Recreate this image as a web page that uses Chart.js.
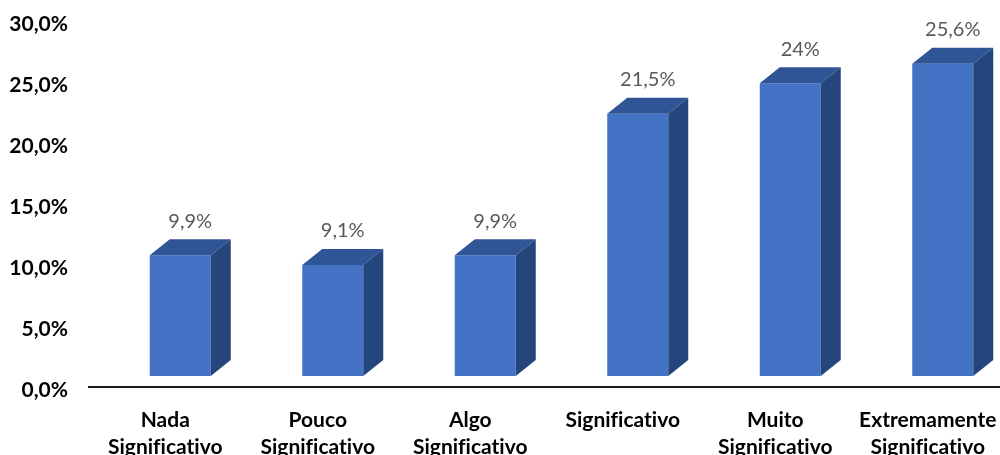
<!DOCTYPE html>
<html>
<head>
<meta charset="utf-8">
<script src="https://cdn.jsdelivr.net/npm/chart.js@4.4.1/dist/chart.umd.min.js"></script>
<style>
    html, body { margin: 0; padding: 0; background: #ffffff; overflow: hidden; }
    #chart { display: block; }
</style>
</head>
<body>
<canvas id="chart" width="1020" height="455"></canvas>
<script>
// Response categories, one entry per column
const categories = [
    ['Nada', 'Significativo'],
    ['Pouco', 'Significativo'],
    ['Algo', 'Significativo'],
    'Significativo',
    ['Muito', 'Significativo'],
    ['Extremamente', 'Significativo']
];

// Share of answers, in percent
const percentages = [9.9, 9.1, 9.9, 21.5, 24, 25.6];

// Value axis range and step
const axisMin = 0;
const axisMax = 30;
const axisStep = 5;

const FRONT = '#4472c4';
const TOP = '#2f5597';
const SIDE = '#25467c';
const DEPTH_X = 20;
const DEPTH_Y = 16;
const FLOOR_GAP = 11;

function formatLabel(value) {
    return String(value).replace('.', ',') + '%';
}

function formatTick(value) {
    return value.toFixed(1).replace('.', ',') + '%';
}

// Plain glyphs, no "fi"/"ti" ligatures
const plainText = {
    id: 'plainText',
    beforeDraw(chart) {
        chart.ctx.textRendering = 'optimizeSpeed';
    }
};

// Draws the top and side faces of each column, the floor line and value labels
const columns3d = {
    id: 'columns3d',
    afterDatasetsDraw(chart) {
        const ctx = chart.ctx;
        const meta = chart.getDatasetMeta(0);
        const yScale = chart.scales.y;

        ctx.save();
        meta.data.forEach(function(bar, i) {
            const half = bar.width / 2;
            const left = bar.x - half;
            const right = bar.x + half;
            const top = bar.y;
            const bottom = bar.base;

            // top face
            ctx.fillStyle = TOP;
            ctx.beginPath();
            ctx.moveTo(left, top);
            ctx.lineTo(left + DEPTH_X, top - DEPTH_Y);
            ctx.lineTo(right + DEPTH_X, top - DEPTH_Y);
            ctx.lineTo(right, top);
            ctx.closePath();
            ctx.fill();

            // side face
            ctx.fillStyle = SIDE;
            ctx.beginPath();
            ctx.moveTo(right, top);
            ctx.lineTo(right + DEPTH_X, top - DEPTH_Y);
            ctx.lineTo(right + DEPTH_X, bottom - DEPTH_Y);
            ctx.lineTo(right, bottom);
            ctx.closePath();
            ctx.fill();

            // value label
            ctx.fillStyle = '#595959';
            ctx.font = '20px Lato';
            ctx.textAlign = 'center';
            ctx.textBaseline = 'middle';
            ctx.fillText(formatLabel(percentages[i]), bar.x + DEPTH_X / 2, top - 34);
        });

        // floor line
        const floorY = yScale.getPixelForValue(0) + FLOOR_GAP;
        ctx.strokeStyle = '#1a1a1a';
        ctx.lineWidth = 2;
        ctx.beginPath();
        ctx.moveTo(chart.chartArea.left - 16, floorY);
        ctx.lineTo(chart.width, floorY);
        ctx.stroke();
        ctx.restore();
    }
};

new Chart(document.getElementById('chart').getContext('2d'), {
    type: 'bar',
    data: {
        labels: categories,
        datasets: [{
            data: percentages,
            backgroundColor: FRONT,
            borderWidth: 0,
            barPercentage: 0.4,
            categoryPercentage: 1.0
        }]
    },
    options: {
        responsive: false,
        animation: false,
        layout: {
            padding: { left: 0, right: 1, top: 10, bottom: 0 }
        },
        plugins: {
            legend: { display: false },
            tooltip: { enabled: false }
        },
        scales: {
            x: {
                grid: { display: false, drawTicks: false },
                border: { display: false },
                ticks: {
                    color: '#000000',
                    font: { family: 'Lato', size: 21, weight: 'bold', lineHeight: 1.32 },
                    padding: 30,
                    labelOffset: -15,
                    maxRotation: 0,
                    autoSkip: false
                },
                afterFit: function(scale) {
                    scale.height = 79;
                    scale.paddingLeft = 0;
                    scale.paddingRight = 0;
                }
            },
            y: {
                min: axisMin,
                max: axisMax,
                grid: { display: false, drawTicks: false },
                border: { display: false },
                ticks: {
                    stepSize: axisStep,
                    color: '#000000',
                    font: { family: 'Lato', size: 21, weight: 'bold' },
                    padding: 36,
                    labelOffset: 14,
                    callback: function(value) { return formatTick(value); }
                },
                afterFit: function(scale) {
                    scale.width = 104;
                    scale.paddingTop = 0;
                    scale.paddingBottom = 0;
                }
            }
        }
    },
    plugins: [plainText, columns3d]
});
</script>
</body>
</html>
